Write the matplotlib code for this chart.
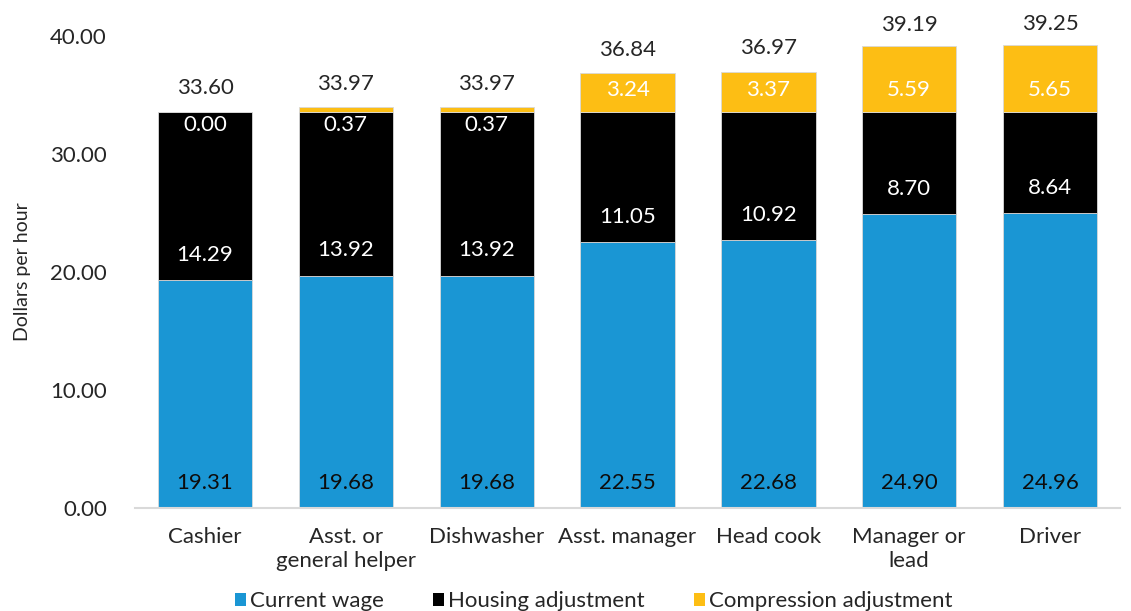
import matplotlib
matplotlib.use("Agg")
import matplotlib.pyplot as plt
from matplotlib.patches import Patch
import numpy as np

categories = ["Cashier", "Asst. or\ngeneral helper", "Dishwasher", "Asst. manager",
              "Head cook", "Manager or\nlead", "Driver"]
current_wage = [19.31, 19.68, 19.68, 22.55, 22.68, 24.90, 24.96]
housing_adj = [14.29, 13.92, 13.92, 11.05, 10.92, 8.70, 8.64]
compression_adj = [0.00, 0.37, 0.37, 3.24, 3.37, 5.59, 5.65]
totals = [33.60, 33.97, 33.97, 36.84, 36.97, 39.19, 39.25]
y_ticks = [0, 10, 20, 30, 40]

plt.rcParams['font.family'] = ['Lato', 'DejaVu Sans']
TXT = "#262626"
BLUE = "#1A96D4"
BLACK = "#000000"
YELLOW = "#FDBE14"

fig = plt.figure(figsize=(11.31, 6.11), dpi=100)
ax = fig.add_axes([0.119, 0.1686, 0.8717, 0.7724])

x = np.arange(len(categories))
w = 0.67
cw = np.array(current_wage)
ha = np.array(housing_adj)
ca = np.array(compression_adj)

ax.bar(x, cw, w, color=BLUE, edgecolor="#d9d9d9", linewidth=0.6, zorder=2)
ax.bar(x, ha, w, bottom=cw, color=BLACK, edgecolor="#d9d9d9", linewidth=0.6, zorder=2)
ax.bar(x, ca, w, bottom=cw + ha, color=YELLOW, edgecolor="#d9d9d9", linewidth=0.6, zorder=2)

fs = 16
for i in range(len(x)):
    # current wage: inside base
    ax.text(x[i], 2.1, f"{cw[i]:.2f}", ha="center", va="center", fontsize=fs, color="#0d0d0d", zorder=3)
    # housing: inside base
    ax.text(x[i], cw[i] + 2.15, f"{ha[i]:.2f}", ha="center", va="center", fontsize=fs, color="white", zorder=3)
    # compression
    base = cw[i] + ha[i]
    if ca[i] >= 2:
        yy = base + 1.8
    else:
        yy = base - 1.1
    ax.text(x[i], yy, f"{ca[i]:.2f}", ha="center", va="center", fontsize=fs, color="white", zorder=3)
    # totals
    off = 17 if totals[i] < 38 else 15
    ax.annotate(f"{totals[i]:.2f}", (x[i], base + ca[i]), xytext=(0, off), textcoords="offset points",
                ha="center", va="center", fontsize=fs, color=TXT)

ax.set_xlim(-0.5, len(x) - 0.5)
ax.set_ylim(0, 40)
ax.set_yticks(y_ticks)
ax.set_yticklabels([f"{v:.2f}" for v in y_ticks], fontsize=fs, color=TXT)
ax.set_xticks(x)
ax.set_xticklabels(categories, fontsize=fs, color=TXT, linespacing=1.2)
ax.tick_params(axis="y", length=0, pad=20)
ax.tick_params(axis="x", length=0, pad=14)
for s in ["top", "right", "left"]:
    ax.spines[s].set_visible(False)
ax.spines["bottom"].set_color("#d9d9d9")
ax.spines["bottom"].set_linewidth(1.5)
ax.set_ylabel("Dollars per hour", fontsize=14, color=TXT, labelpad=14)

handles = [Patch(facecolor=BLUE), Patch(facecolor=BLACK), Patch(facecolor=YELLOW)]
fig.legend(handles, ["Current wage", "Housing adjustment", "Compression adjustment"],
           loc="center", bbox_to_anchor=(0.525, 0.016), ncol=3, frameon=False,
           fontsize=fs, handlelength=0.5, handleheight=0.5, handletextpad=0.2,
           columnspacing=2.2, labelcolor=TXT)

fig.savefig("out.png", dpi=100)
